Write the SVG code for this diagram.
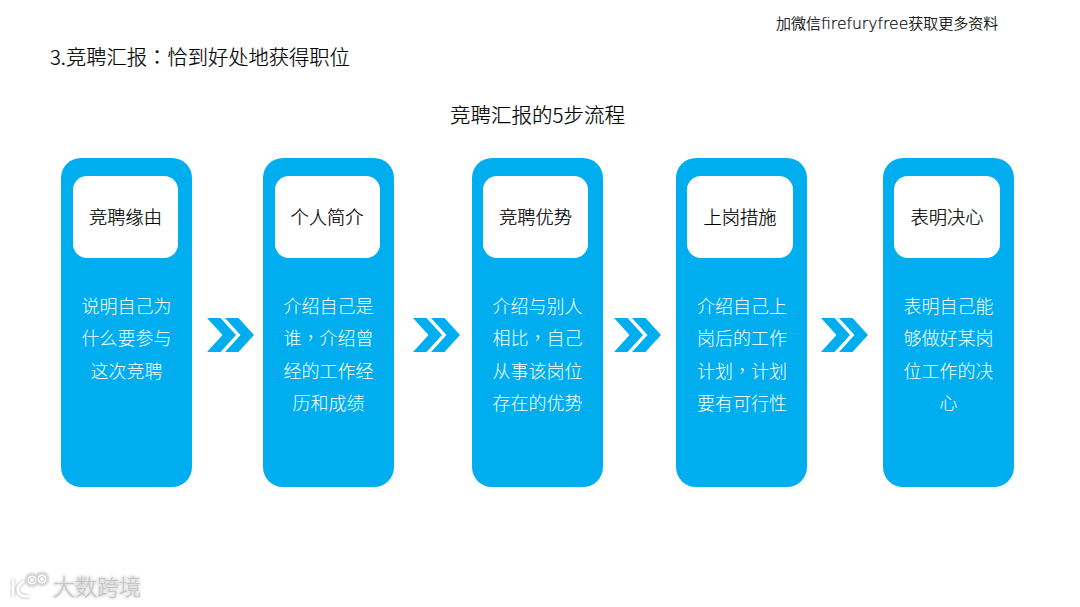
<svg xmlns="http://www.w3.org/2000/svg" width="1080" height="607" viewBox="0 0 1080 607">
<style>
text{font-family:"Noto Sans CJK SC","Noto Sans",sans-serif;font-weight:300;}
.h{font-size:18.300px;fill:#000;stroke:#000;stroke-width:.2px;text-anchor:middle;}
.b{font-size:18px;fill:#fff;text-anchor:middle;}
.t{fill:#000;stroke:#000;stroke-width:.2px;}
.p{font-family:"Noto Sans CJK TC","Noto Sans",sans-serif;}
.l{font-family:"DejaVu Sans",sans-serif;}
.card{fill:#00aeef;}
.head{fill:#fff;}
.chev{fill:#00aeef;}
.wm{font-size:22px;fill:#c6c6c6;}
</style>
<defs>
<g id="arrow"><path class="chev" d="M0 0H13.500L29 17L13.500 34H0L15.500 17Z"/><path class="chev" d="M18 0H31.500L47 17L31.500 34H18L33.500 17Z"/></g>
<filter id="glow" x="-20%" y="-20%" width="140%" height="140%"><feGaussianBlur stdDeviation="1"/></filter>
</defs>
<rect width="1080" height="607" fill="#fff"/>
<text class="t" x="776" y="29" font-size="15">加微信<tspan class="l" font-size="15.600">firefuryfree</tspan>获取更多资料</text>
<text class="t" x="50" y="64.500" font-size="20.300">3.竞聘汇报<tspan class="p">：</tspan>恰到好处地获得职位</text>
<text class="t" x="537.500" y="122.500" font-size="20.500" text-anchor="middle">竞聘汇报的5步流程</text>
<g id="connectors">
<use href="#arrow" x="207" y="318"/>
<use href="#arrow" x="413" y="318"/>
<use href="#arrow" x="614" y="318"/>
<use href="#arrow" x="821" y="318"/>
</g>
<g id="node1"><rect class="card" x="61" y="158" width="131" height="329" rx="20"/><rect class="head" x="73" y="176" width="105" height="82" rx="14"/>
<text class="h" x="125.500" y="224">竞聘缘由</text>
<text class="b" x="126.500" y="313">说明自己为</text><text class="b" x="126.500" y="345">什么要参与</text><text class="b" x="126.500" y="377.500">这次竞聘</text></g>
<g id="node2"><rect class="card" x="263" y="158" width="131" height="329" rx="20"/><rect class="head" x="275" y="176" width="105" height="82" rx="14"/>
<text class="h" x="327" y="224">个人简介</text>
<text class="b" x="328.500" y="313">介绍自己是</text><text class="b" x="328.500" y="345">谁<tspan class="p">，</tspan>介绍曾</text><text class="b" x="328.500" y="377.500">经的工作经</text><text class="b" x="328.500" y="410">历和成绩</text></g>
<g id="node3"><rect class="card" x="472" y="158" width="131" height="329" rx="20"/><rect class="head" x="483" y="176" width="105" height="82" rx="14"/>
<text class="h" x="535.500" y="224">竞聘优势</text>
<text class="b" x="537.500" y="313">介绍与别人</text><text class="b" x="537.500" y="345">相比<tspan class="p">，</tspan>自己</text><text class="b" x="537.500" y="377.500">从事该岗位</text><text class="b" x="537.500" y="410">存在的优势</text></g>
<g id="node4"><rect class="card" x="676" y="158" width="131" height="329" rx="20"/><rect class="head" x="687" y="176" width="106" height="82" rx="14"/>
<text class="h" x="740" y="224">上岗措施</text>
<text class="b" x="742" y="313">介绍自己上</text><text class="b" x="742" y="345">岗后的工作</text><text class="b" x="742" y="377.500">计划<tspan class="p">，</tspan>计划</text><text class="b" x="742" y="410">要有可行性</text></g>
<g id="node5"><rect class="card" x="883" y="158" width="131" height="329" rx="20"/><rect class="head" x="894" y="176" width="106" height="82" rx="14"/>
<text class="h" x="947" y="224">表明决心</text>
<text class="b" x="948.500" y="313">表明自己能</text><text class="b" x="948.500" y="345">够做好某岗</text><text class="b" x="948.500" y="377.500">位工作的决</text><text class="b" x="948.500" y="410">心</text></g>
<g id="watermark">
<g fill="none" stroke="#d2d2d2" stroke-width="4.500" filter="url(#glow)"><path d="M13 579V597M24 581Q16 587 18 591Q21 598 29 596"/><circle cx="32" cy="580" r="5"/><circle cx="42" cy="579" r="5"/></g>
<g fill="none" stroke="#fff" stroke-width="2.500"><path d="M13 579V597M24 581Q16 587 18 591Q21 598 29 596"/></g>
<g fill="#fff" stroke="#fff" stroke-width="1"><circle cx="32" cy="580" r="4"/><circle cx="42" cy="579" r="4"/></g>
<g fill="none" stroke="#c6c6c6" stroke-width="1"><circle cx="32" cy="580" r="2.500"/><circle cx="42" cy="579" r="2.500"/></g>
<text x="53" y="595" font-size="22" fill="#fff" stroke="#e2e2e2" stroke-width="2.500" filter="url(#glow)">大数跨境</text>
<text class="wm" x="53" y="595">大数跨境</text>
</g>
</svg>
